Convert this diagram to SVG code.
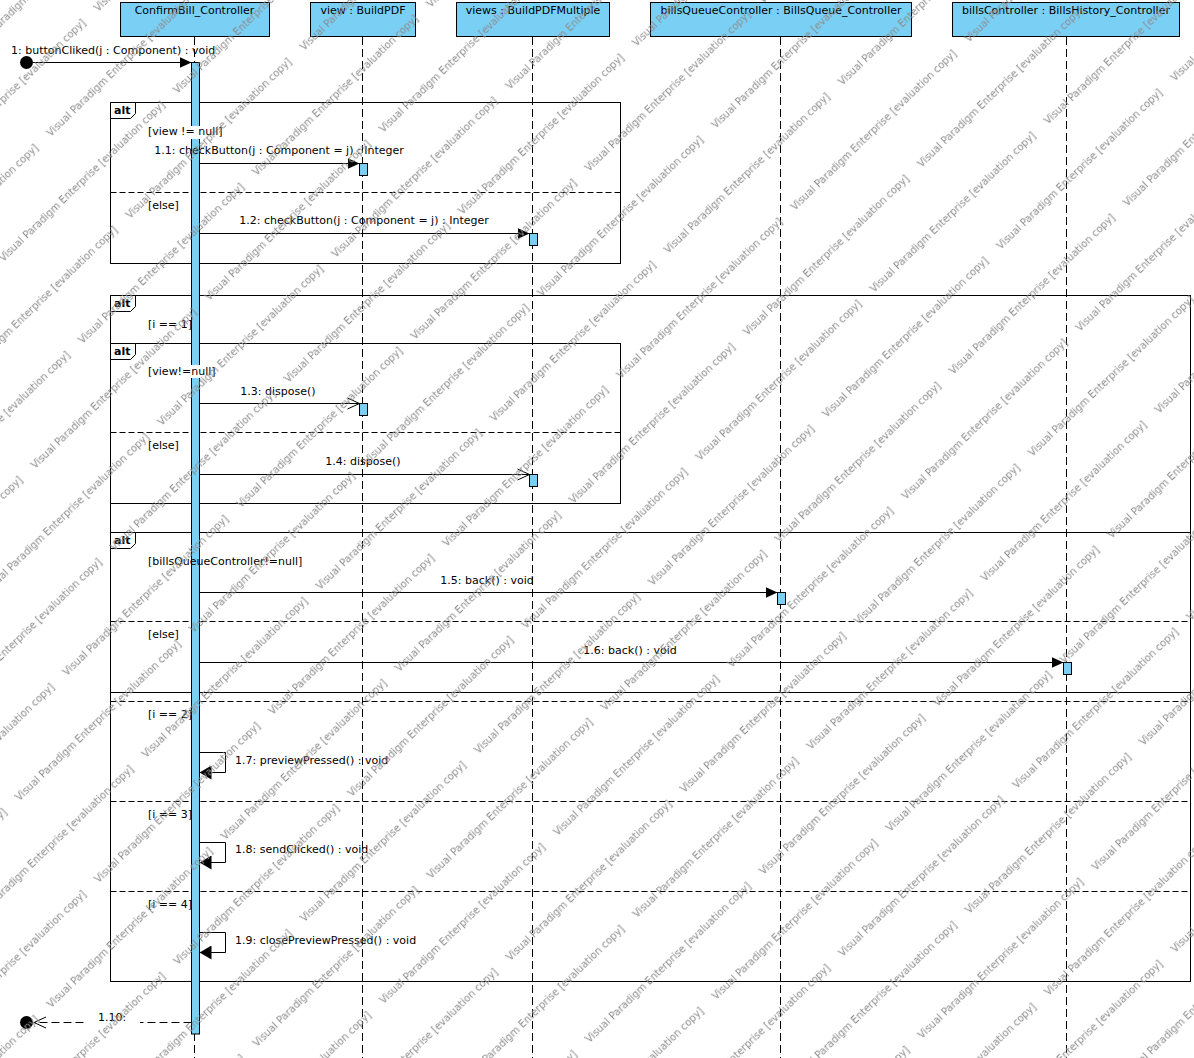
<svg xmlns="http://www.w3.org/2000/svg" width="1194" height="1058" viewBox="0 0 1194 1058">
<style>
  text { font-family: "DejaVu Sans", "Liberation Sans", sans-serif; font-size: 11px; fill: #000; }
  .mid { text-anchor: middle; }
  .head { fill: #7ACFF5; stroke: #000; stroke-width: 1; }
  .lifeline { stroke: #000; stroke-width: 1; stroke-dasharray: 8 4; fill: none; }
  .act { fill: #7ACFF5; stroke: #000; stroke-width: 1; }
  .frame { fill: none; stroke: #000; stroke-width: 1; }
  .divider { stroke: #000; stroke-width: 1; stroke-dasharray: 6 3; fill: none; }
  .tag { fill: #fff; stroke: #000; stroke-width: 1; }
  .tagtext { font-weight: bold; }
  .msg { stroke: #000; stroke-width: 1; fill: none; }
  .sync { marker-end: url(#filled); }
  .self { marker-end: url(#selfHead); }
  .async { marker-end: url(#open); }
  .reply { stroke-dasharray: 8 4; marker-end: url(#open); }
  .bg { fill: #fff; stroke: none; }
  .wm { font-size: 10px; fill: #8c8c8c; }
</style>
<defs>
  <marker id="filled" markerUnits="userSpaceOnUse" viewBox="0 0 12 12" refX="12" refY="6" markerWidth="12" markerHeight="12" orient="auto">
    <path d="M0,0.5 L12,6 L0,11.5 Z" fill="#000"/>
  </marker>
  <marker id="selfHead" markerUnits="userSpaceOnUse" viewBox="0 0 12 14" refX="12" refY="7" markerWidth="12" markerHeight="14" orient="auto">
    <path d="M0,0 L12,7 L0,14 Z" fill="#000"/>
  </marker>
  <marker id="open" markerUnits="userSpaceOnUse" viewBox="-1 -1 14 14" refX="12" refY="6" markerWidth="14" markerHeight="14" orient="auto">
    <path d="M0,0.5 L12,6 L0,11.5" fill="none" stroke="#000" stroke-width="1"/>
  </marker>
  <pattern id="wm" patternUnits="userSpaceOnUse" width="242" height="114" patternTransform="translate(795.4 385.6) rotate(-44)">
    <text class="wm" x="0" y="45">Visual Paradigm Enterprise [evaluation copy]</text>
    <text class="wm" x="121" y="102">Visual Paradigm Enterprise [evaluation copy]</text>
    <text class="wm" x="-121" y="102">Visual Paradigm Enterprise [evaluation copy]</text>
  </pattern>
</defs>

<rect x="0" y="0" width="1194" height="1058" fill="#fff"/>

<!-- combined fragments: borders, operand dividers and operator tags -->
<g id="frames">
  <g id="altView">
    <rect class="frame" x="110.5" y="102.5" width="510" height="161"/>
    <line class="divider" x1="110.5" y1="192.5" x2="620.5" y2="192.5"/>
    <path class="tag" d="M110.5,102.5 H135.5 V113.5 L130.5,118.5 H110.5 Z"/>
    <text class="tagtext" x="114" y="114">alt</text>
  </g>
  <g id="altI">
    <rect class="frame" x="110.5" y="295.5" width="1080" height="686"/>
    <line class="divider" x1="110.5" y1="701.5" x2="1190.5" y2="701.5"/>
    <line class="divider" x1="110.5" y1="801.5" x2="1190.5" y2="801.5"/>
    <line class="divider" x1="110.5" y1="891.5" x2="1190.5" y2="891.5"/>
    <path class="tag" d="M110.5,295.5 H135.5 V306.5 L130.5,311.5 H110.5 Z"/>
    <text class="tagtext" x="114" y="307">alt</text>
  </g>
  <g id="altDispose">
    <rect class="frame" x="110.5" y="343.5" width="510" height="160"/>
    <line class="divider" x1="110.5" y1="432.5" x2="620.5" y2="432.5"/>
    <path class="tag" d="M110.5,343.5 H135.5 V354.5 L130.5,359.5 H110.5 Z"/>
    <text class="tagtext" x="114" y="355">alt</text>
  </g>
  <g id="altBack">
    <rect class="frame" x="110.5" y="532.5" width="1080" height="160"/>
    <line class="divider" x1="110.5" y1="621.5" x2="1190.5" y2="621.5"/>
    <path class="tag" d="M110.5,532.5 H135.5 V543.5 L130.5,548.5 H110.5 Z"/>
    <text class="tagtext" x="114" y="544">alt</text>
  </g>
</g>

<!-- lifelines -->
<g id="confirmBillController">
  <rect class="head" x="120.5" y="2.5" width="149" height="34"/>
  <text class="mid" x="194.5" y="14">ConfirmBill_Controller</text>
  <line class="lifeline" x1="194.5" y1="37" x2="194.5" y2="1058"/>
  <rect class="act" x="191.5" y="62.5" width="8" height="971.5"/>
</g>
<g id="view">
  <rect class="head" x="310.5" y="2.5" width="105" height="34"/>
  <text class="mid" x="363" y="14">view : BuildPDF</text>
  <line class="lifeline" x1="362.5" y1="37" x2="362.5" y2="1058"/>
  <rect class="act" x="359.5" y="163.5" width="8" height="12"/>
  <rect class="act" x="359.5" y="403.5" width="8" height="12"/>
</g>
<g id="views">
  <rect class="head" x="456.5" y="2.5" width="153" height="34"/>
  <text class="mid" x="533" y="14">views : BuildPDFMultiple</text>
  <line class="lifeline" x1="532.5" y1="37" x2="532.5" y2="1058"/>
  <rect class="act" x="529.5" y="233.5" width="8" height="12"/>
  <rect class="act" x="529.5" y="474.5" width="8" height="12"/>
</g>
<g id="billsQueueController">
  <rect class="head" x="650.5" y="2.5" width="261" height="34"/>
  <text class="mid" x="781" y="14">billsQueueController : BillsQueue_Controller</text>
  <line class="lifeline" x1="780.5" y1="37" x2="780.5" y2="1058"/>
  <rect class="act" x="777.5" y="592.5" width="8" height="12"/>
</g>
<g id="billsController">
  <rect class="head" x="952.5" y="2.5" width="227" height="34"/>
  <text class="mid" x="1066" y="14">billsController : BillsHistory_Controller</text>
  <line class="lifeline" x1="1066.5" y1="37" x2="1066.5" y2="1058"/>
  <rect class="act" x="1063.5" y="662.5" width="8" height="12"/>
</g>

<!-- operand guards -->
<g id="guards">
  <rect class="bg" x="146" y="126" width="77" height="13"/>
  <text x="148" y="135">[view != null]</text>
  <text x="148" y="209">[else]</text>
  <text x="148" y="328">[i == 1]</text>
  <rect class="bg" x="146" y="365" width="71" height="13"/>
  <text x="148" y="375">[view!=null]</text>
  <text x="148" y="449">[else]</text>
  <text x="148" y="565">[billsQueueController!=null]</text>
  <text x="148" y="638">[else]</text>
  <text x="148" y="718">[i == 2]</text>
  <text x="148" y="818">[i == 3]</text>
  <text x="148" y="908">[i == 4]</text>
</g>

<!-- messages -->
<g id="connectors">
  <g id="m1">
    <circle cx="26.5" cy="62.5" r="6.5" fill="#000"/>
    <line class="msg sync" x1="33" y1="62.5" x2="191.5" y2="62.5"/>
    <text x="11" y="54">1: buttonCliked(j : Component) : void</text>
  </g>
  <g id="m1_1">
    <line class="msg sync" x1="199.5" y1="163.5" x2="359.5" y2="163.5"/>
    <text class="mid" x="279" y="154">1.1: checkButton(j : Component = j) : Integer</text>
  </g>
  <g id="m1_2">
    <line class="msg sync" x1="199.5" y1="233.5" x2="529.5" y2="233.5"/>
    <text class="mid" x="364" y="224">1.2: checkButton(j : Component = j) : Integer</text>
  </g>
  <g id="m1_3">
    <line class="msg async" x1="199.5" y1="403.5" x2="359.5" y2="403.5"/>
    <text class="mid" x="278" y="395">1.3: dispose()</text>
  </g>
  <g id="m1_4">
    <line class="msg async" x1="199.5" y1="474.5" x2="529.5" y2="474.5"/>
    <text class="mid" x="363" y="465">1.4: dispose()</text>
  </g>
  <g id="m1_5">
    <line class="msg sync" x1="199.5" y1="592.5" x2="777.5" y2="592.5"/>
    <text class="mid" x="487" y="584">1.5: back() : void</text>
  </g>
  <g id="m1_6">
    <line class="msg sync" x1="199.5" y1="662.5" x2="1063.5" y2="662.5"/>
    <text class="mid" x="630" y="654">1.6: back() : void</text>
  </g>
  <g id="m1_7">
    <polyline class="msg self" points="199.5,752.5 225.5,752.5 225.5,772.5 199.5,772.5"/>
    <text x="235" y="764">1.7: previewPressed() : void</text>
  </g>
  <g id="m1_8">
    <polyline class="msg self" points="199.5,842.5 225.5,842.5 225.5,862.5 199.5,862.5"/>
    <text x="235" y="853">1.8: sendClicked() : void</text>
  </g>
  <g id="m1_9">
    <polyline class="msg self" points="199.5,932.5 225.5,932.5 225.5,952.5 199.5,952.5"/>
    <text x="235" y="944">1.9: closePreviewPressed() : void</text>
  </g>
  <g id="m1_10">
    <line class="msg reply" x1="191.5" y1="1022.5" x2="34" y2="1022.5"/>
    <circle cx="26.5" cy="1022.5" r="6.5" fill="#000"/>
    <rect class="bg" x="85" y="1011" width="55" height="14"/>
    <text class="mid" x="112" y="1021">1.10:</text>
  </g>
</g>

<!-- evaluation stamp laid over the whole sheet -->
<rect id="stamp" x="0" y="0" width="1194" height="1058" fill="url(#wm)"/>
</svg>
